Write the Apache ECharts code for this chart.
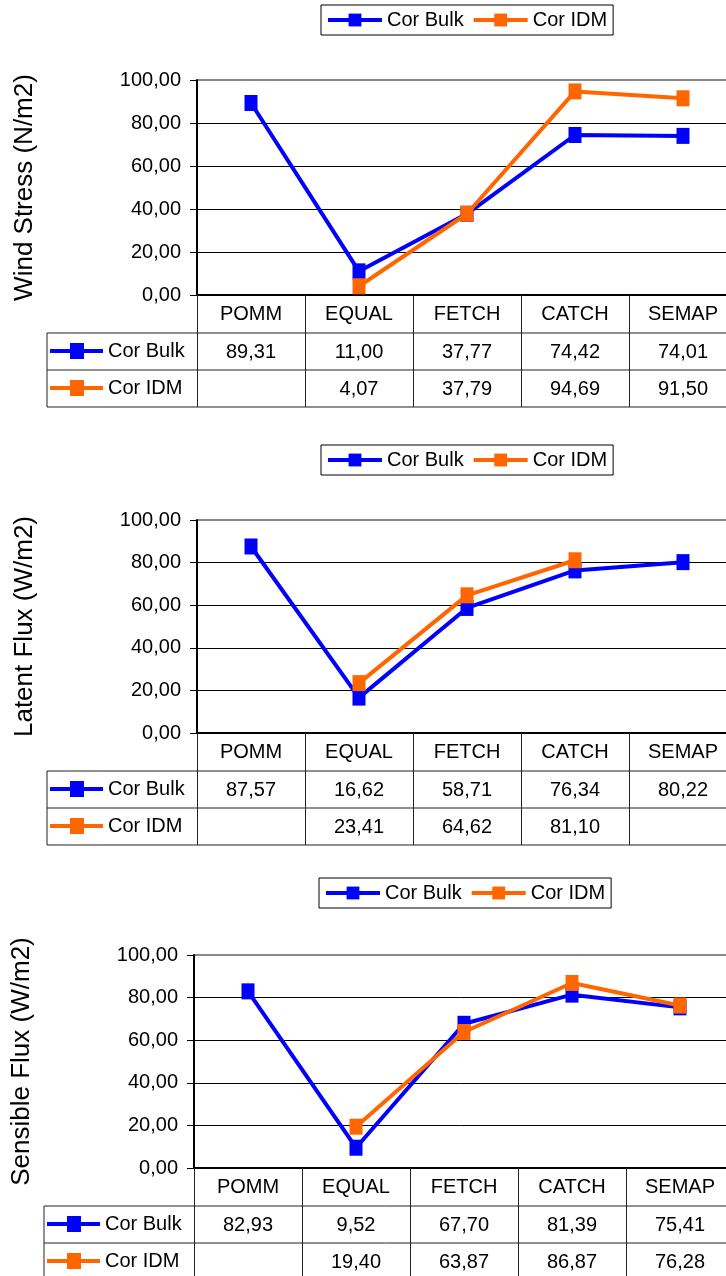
<!DOCTYPE html>
<html>
<head>
<meta charset="utf-8">
<script src="https://cdn.jsdelivr.net/npm/echarts@6/dist/echarts.min.js"></script>
<style>
  html, body { margin: 0; padding: 0; background: #fff; }
  #main { width: 726px; height: 1276px; }
</style>
</head>
<body>
<div id="main"></div>
<script>
// data
var categories = ['POMM', 'EQUAL', 'FETCH', 'CATCH', 'SEMAP'];
var seriesNames = ['Cor Bulk', 'Cor IDM'];
var windBulk = [89.31, 11.00, 37.77, 74.42, 74.01];
var windIdm = [null, 4.07, 37.79, 94.69, 91.50];
var latentBulk = [87.57, 16.62, 58.71, 76.34, 80.22];
var latentIdm = [null, 23.41, 64.62, 81.10, null];
var sensibleBulk = [82.93, 9.52, 67.70, 81.39, 75.41];
var sensibleIdm = [null, 19.40, 63.87, 86.87, 76.28];
var yTitles = ['Wind Stress (N/m2)', 'Latent Flux (W/m2)', 'Sensible Flux (W/m2)'];

var FONT = "'Liberation Sans', Arial, sans-serif";
var colors = ['#0000ff', '#ff6600'];

// layout of the three panels
var panels = [
  { bulk: windBulk, idm: windIdm, left: 197, top: 80, height: 215, legendTop: 5, legendLeft: 321, tableLeft: 47 },
  { bulk: latentBulk, idm: latentIdm, left: 197, top: 520, height: 213, legendTop: 445, legendLeft: 321, tableLeft: 47 },
  { bulk: sensibleBulk, idm: sensibleIdm, left: 194, top: 955, height: 213, legendTop: 878, legendLeft: 319, tableLeft: 44 }
];
var plotWidth = 540;

function fmt(v) {
  return v == null ? '' : v.toFixed(2).replace('.', ',');
}

var grid = [], xAxis = [], yAxis = [], series = [], legend = [], graphic = [];

panels.forEach(function (p, i) {
  var rows = [p.bulk, p.idm];
  grid.push({ left: p.left, top: p.top, width: plotWidth, height: p.height, outerBoundsMode: 'none' });

  // header row: category names + column borders
  xAxis.push({
    type: 'category', gridIndex: i, data: categories, position: 'bottom',
    axisLine: { lineStyle: { color: '#000', width: 2 } },
    axisTick: { show: true, length: 112, lineStyle: { color: '#222', width: 1 } },
    axisLabel: { color: '#000', fontSize: 20, fontFamily: FONT, margin: 9 },
    splitLine: { show: false }
  });
  // table rows with values
  rows.forEach(function (vals, r) {
    xAxis.push({
      type: 'category', gridIndex: i, data: categories, position: 'bottom', offset: 38 + r * 37,
      axisLine: { show: false }, axisTick: { show: false },
      axisLabel: {
        color: '#000', fontSize: 20, fontFamily: FONT, margin: 9,
        formatter: function (v, idx) { return fmt(vals[idx]); }
      }
    });
  });

  yAxis.push({
    type: 'value', gridIndex: i, min: 0, max: 100, interval: 20,
    name: yTitles[i], nameLocation: 'middle', nameRotate: 90, nameGap: 159,
    nameTextStyle: { color: '#000', fontSize: 26, fontFamily: FONT },
    axisLine: { show: true, lineStyle: { color: '#000', width: 2 } },
    axisTick: { show: true, length: 7, lineStyle: { color: '#000' } },
    axisLabel: { color: '#000', fontSize: 20, fontFamily: FONT, margin: 16, formatter: fmt },
    splitLine: { lineStyle: { color: ['#000', '#000', '#000', '#000', '#000', '#888'], width: 1 } }
  });

  rows.forEach(function (vals, r) {
    series.push({
      name: seriesNames[r], type: 'line', xAxisIndex: i * 3, yAxisIndex: i,
      data: vals, symbol: 'rect', symbolSize: [13, 16],
      lineStyle: { color: colors[r], width: 4 },
      itemStyle: { color: colors[r] },
      connectNulls: false, animation: false, z: 3 + r
    });
  });

  legend.push({
    left: p.legendLeft, top: p.legendTop, data: seriesNames, selectedMode: false,
    borderColor: '#000', borderWidth: 1, padding: [5, 6, 5, 5],
    itemWidth: 54, itemHeight: 16, itemGap: 8,
    lineStyle: { width: 4 },
    textStyle: { color: '#000', fontSize: 20, fontFamily: FONT }
  });

  // table borders and row labels
  var bottom = p.top + p.height;
  var right = p.left + plotWidth;
  graphic.push({ type: 'line', shape: { x1: p.left, y1: p.top, x2: right, y2: p.top },
    style: { stroke: '#888', lineWidth: 2 } });
  [38, 75, 112].forEach(function (dy) {
    graphic.push({ type: 'line', shape: { x1: p.tableLeft, y1: bottom + dy, x2: right, y2: bottom + dy },
      style: { stroke: '#222', lineWidth: 1 } });
  });
  graphic.push({ type: 'line', shape: { x1: p.tableLeft, y1: bottom + 38, x2: p.tableLeft, y2: bottom + 112 },
    style: { stroke: '#222', lineWidth: 1 } });
  seriesNames.forEach(function (name, r) {
    var cy = bottom + 56 + r * 37;
    graphic.push({ type: 'line', shape: { x1: p.tableLeft + 3, y1: cy, x2: p.tableLeft + 56, y2: cy },
      style: { stroke: colors[r], lineWidth: 4 } });
    graphic.push({ type: 'rect', shape: { x: p.tableLeft + 23, y: cy - 8, width: 14, height: 16 },
      style: { fill: colors[r] } });
    graphic.push({ type: 'text', x: p.tableLeft + 61, y: cy,
      style: { text: name, fill: '#000', font: '20px ' + FONT, verticalAlign: 'middle' } });
  });
});

var chart = echarts.init(document.getElementById('main'));
chart.setOption({
  backgroundColor: '#fff',
  animation: false,
  grid: grid,
  xAxis: xAxis,
  yAxis: yAxis,
  legend: legend,
  series: series,
  graphic: graphic
});
</script>
</body>
</html>
